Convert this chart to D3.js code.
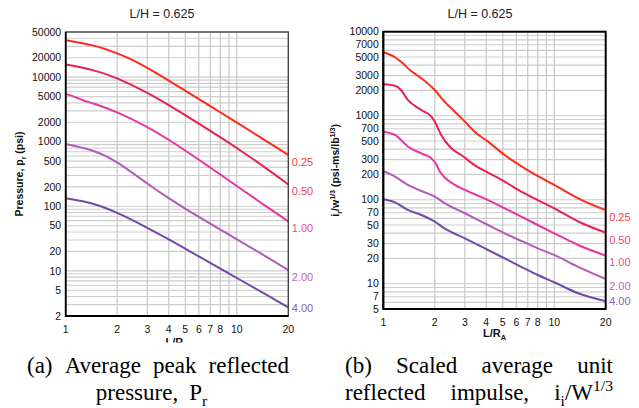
<!DOCTYPE html>
<html>
<head>
<meta charset="utf-8">
<script src="https://cdn.jsdelivr.net/npm/d3@7"></script>
<style>
  body { margin: 0; background: #fff; }
  svg { display: block; }
</style>
</head>
<body>
<div id="chart"></div>
<script>
// ---- data ----
const xTicks = [1, 2, 3, 4, 5, 6, 7, 8, 10, 20];
const curveLabels = ["0.25", "0.50", "1.00", "2.00", "4.00"];
const curveColors = ["#ff2b1c", "#ea2050", "#e636a0", "#b35ab9", "#7249aa"];
const labelColors = ["#f5413a", "#f0426a", "#e8509e", "#c064bd", "#8a62bb"];

const pressureTicks = [2, 5, 10, 20, 50, 100, 200, 500, 1000, 2000, 5000, 10000, 20000, 50000];
const impulseTicks = [5, 7, 10, 20, 30, 50, 70, 100, 200, 300, 500, 700, 1000, 2000, 3000, 5000, 7000, 10000];

// (a) peak reflected pressure, psi
const pressure025 = [[1, 37400], [1.45, 31650], [2, 23700], [2.5, 18130], [3, 14000], [4, 8880], [5, 6180], [6, 4590], [8, 2860], [10, 1980], [14, 1132], [20, 623]];
const pressure050 = [[1, 15700], [1.45, 13060], [2, 9780], [3, 5780], [4, 3700], [5, 2580], [6, 1910], [8, 1178], [10, 800], [14, 437], [20, 217]];
const pressure100 = [[1, 5500], [1.13, 5000], [1.27, 4300], [1.45, 3950], [2, 2900], [3, 1710], [4, 1079], [5, 730], [6, 526], [7, 397], [8, 311], [10, 206], [14, 111], [20, 58.4]];
const pressure200 = [[1, 920], [1.45, 748], [2, 500], [3, 222], [4, 133], [5, 91.6], [6, 68.3], [8, 43.7], [10, 30.9], [14, 18.3], [20, 10.3]];
const pressure400 = [[1, 133], [1.45, 112.6], [2, 80.3], [3, 46.8], [4, 30.8], [5, 22], [6, 16.7], [8, 10.85], [10, 7.76], [14, 4.7], [20, 2.71]];

// (b) scaled reflected impulse, psi-ms/lb^1/3
const impulse025 = [[1, 5690], [1.17, 4960], [1.3, 4200], [1.43, 3500], [1.67, 2790], [2, 2020], [2.28, 1470], [2.62, 1115], [3, 850], [3.42, 646], [4.1, 491], [5.13, 340], [6.2, 262], [7.7, 200], [10, 150], [13.8, 104], [20, 75]];
const impulse050 = [[1, 2370], [1.17, 2275], [1.27, 2020], [1.39, 1540], [1.67, 1170], [1.91, 975], [2, 850], [2.18, 590], [2.5, 410], [2.86, 340], [3.4, 260], [4.1, 210], [5.13, 164], [6.41, 125], [8, 99], [10, 79], [13.8, 55], [20, 40.5]];
const impulse100 = [[1, 646], [1.17, 590], [1.27, 514], [1.39, 430], [1.67, 356], [1.91, 311], [2.04, 265], [2.14, 216], [2.28, 185], [2.62, 150], [3, 131], [4.1, 99], [5.13, 79], [6.41, 63], [8, 50], [10, 39.8], [13.8, 28.9], [20, 21.6]];
const impulse200 = [[1, 220], [1.17, 188], [1.39, 150], [1.67, 127], [2, 109], [2.28, 91], [3, 69], [4.1, 50], [5.13, 39.8], [6.41, 32.3], [8, 26.4], [10, 22], [13.8, 15.9], [20, 11.4]];
const impulse400 = [[1, 101], [1.17, 93], [1.39, 75.5], [1.67, 65.7], [2, 54.8], [2.28, 45.7], [3, 34.7], [4.1, 25.2], [5.13, 20], [6.41, 15.9], [8, 12.7], [10, 10.4], [13.8, 7.7], [20, 6.2]];

const width = 639;
const height = 408;
const sans = "Liberation Sans, Arial, sans-serif";
const serif = "Liberation Serif, Times New Roman, serif";

const svg = d3.select("#chart")
  .append("svg")
  .attr("width", width)
  .attr("height", height);

// text with sub/superscript pieces: [[text], [text, "sub"], ...]
function richText(sel, segs, fs) {
  let shift = 0;
  segs.forEach(([t, k]) => {
    const target = k === "sub" ? fs * 0.28 : k === "sup" ? -fs * 0.4 : 0;
    sel.append("tspan")
      .attr("dy", target - shift)
      .attr("font-size", k ? fs * 0.68 : fs)
      .text(t);
    shift = target;
  });
  return sel;
}

function panel(o) {
  const x = d3.scaleLog().domain([1, 20]).range([o.left, o.right]);
  const y = d3.scaleLog().domain(o.yDomain).range([o.bottom, o.top]);
  const g = svg.append("g");

  // grid
  g.append("g")
    .selectAll("line")
    .data(y.ticks())
    .join("line")
    .attr("x1", o.left).attr("x2", o.right)
    .attr("y1", d => y(d)).attr("y2", d => y(d))
    .attr("stroke", "#cdcdcd")
    .attr("stroke-width", 1.1);

  g.append("g")
    .selectAll("line")
    .data(x.ticks().filter(d => d > 1 && d < 20))
    .join("line")
    .attr("x1", d => x(d)).attr("x2", d => x(d))
    .attr("y1", o.top).attr("y2", o.bottom)
    .attr("stroke", "#c8c8c8")
    .attr("stroke-width", 1.2);

  // curves
  const line = d3.line()
    .x(d => x(d[0]))
    .y(d => y(d[1]))
    .curve(o.curve);

  g.append("g")
    .selectAll("path")
    .data(o.series)
    .join("path")
    .attr("d", line)
    .attr("fill", "none")
    .attr("stroke", (d, i) => curveColors[i])
    .attr("stroke-width", 2);

  // frame
  g.append("rect")
    .attr("x", o.left).attr("y", o.top)
    .attr("width", o.right - o.left).attr("height", o.bottom - o.top)
    .attr("fill", "none")
    .attr("stroke", o.frame)
    .attr("stroke-width", o.frameWidth);
  g.append("path")
    .attr("d", `M${o.left},${o.top}V${o.bottom}H${o.right}`)
    .attr("fill", "none")
    .attr("stroke", "#000")
    .attr("stroke-width", 1.8);

  // tick labels
  g.append("g")
    .selectAll("text")
    .data(o.yTicks)
    .join("text")
    .attr("x", o.left - 4.5)
    .attr("y", d => y(d))
    .attr("dy", "0.35em")
    .attr("text-anchor", "end")
    .attr("font-family", sans)
    .attr("font-size", 10.5)
    .attr("fill", "#111")
    .text(d => d);

  g.append("g")
    .selectAll("text")
    .data(xTicks)
    .join("text")
    .attr("x", d => x(d))
    .attr("y", o.bottom + 17)
    .attr("text-anchor", "middle")
    .attr("font-family", sans)
    .attr("font-size", 10.5)
    .attr("fill", "#111")
    .text(d => d);

  // curve labels at the right end
  g.append("g")
    .selectAll("text")
    .data(o.series)
    .join("text")
    .attr("x", o.right + 3.5)
    .attr("y", d => Math.min(y(d[d.length - 1][1]) + 7, o.bottom - 8))
    .attr("dy", "0.35em")
    .attr("font-family", sans)
    .attr("font-size", 11)
    .attr("fill", (d, i) => labelColors[i])
    .text((d, i) => curveLabels[i]);

  // title and axis titles
  g.append("text")
    .attr("x", o.titleX).attr("y", 18.3)
    .attr("text-anchor", "middle")
    .attr("font-family", sans)
    .attr("font-size", 12.5)
    .attr("fill", "#222")
    .text("L/H = 0.625");

  richText(g.append("text")
    .attr("transform", `translate(${o.yLabelX},${(o.top + o.bottom) / 2}) rotate(-90)`)
    .attr("text-anchor", "middle")
    .attr("font-family", sans)
    .attr("font-weight", "bold")
    .attr("fill", "#111"), o.yLabel, 10.5);

  richText(g.append("text")
    .attr("x", (o.left + o.right) / 2)
    .attr("y", o.xLabelY)
    .attr("text-anchor", "middle")
    .attr("font-family", sans)
    .attr("font-weight", "bold")
    .attr("fill", "#111"), [["L/R"], ["A", "sub"]], 11);
}

panel({
  left: 65.7, right: 288.3, top: 32, bottom: 316,
  yDomain: [2, 50000], yTicks: pressureTicks,
  series: [pressure025, pressure050, pressure100, pressure200, pressure400],
  curve: d3.curveBasis,
  frame: "#444", frameWidth: 1.4,
  titleX: 162, yLabelX: 23, xLabelY: 345.5,
  yLabel: [["Pressure, p"], ["r", "sub"], [" (psi)"]]
});

panel({
  left: 383.3, right: 605.7, top: 31.7, bottom: 309,
  yDomain: [5, 10000], yTicks: impulseTicks,
  series: [impulse025, impulse050, impulse100, impulse200, impulse400],
  curve: d3.curveMonotoneX,
  frame: "#000", frameWidth: 2,
  titleX: 480, yLabelX: 339, xLabelY: 337,
  yLabel: [["i"], ["r", "sub"], ["/w"], ["1/3", "sup"], [" (psi-ms/lb"], ["1/3", "sup"], [")"]]
});

// ---- captions (the white band hides the lower half of the left x label) ----
svg.append("rect")
  .attr("x", 0).attr("y", 342.5)
  .attr("width", 320).attr("height", height - 342.5)
  .attr("fill", "#fff");

const captionFont = 23;

function captionLine(words, x0, x1, y, gap) {
  const g = svg.append("g");
  const nodes = words.map(w => richText(g.append("text")
    .attr("y", y)
    .attr("font-family", serif)
    .attr("fill", "#000"), w, captionFont));
  const widths = nodes.map(t => t.node().getComputedTextLength());
  const total = d3.sum(widths);
  let step, start;
  if (gap === undefined) {
    step = (x1 - x0 - total) / (words.length - 1);
    start = x0;
  } else {
    step = gap;
    start = (x0 + x1) / 2 - (total + gap * (words.length - 1)) / 2;
  }
  let pos = start;
  nodes.forEach((t, i) => {
    t.attr("x", pos);
    pos += widths[i] + step;
  });
}

captionLine([[["(a)"]], [["Average"]], [["peak"]], [["reflected"]]], 27, 289, 373);
captionLine([[["pressure,"]], [["P"], ["r", "sub"]]], 105, 198, 400, 11);
captionLine([[["(b)"]], [["Scaled"]], [["average"]], [["unit"]]], 345, 613, 373);
captionLine([[["reflected"]], [["impulse,"]], [["i"], ["i", "sub"], ["/W"], ["1/3", "sup"]]], 345, 613, 400);
</script>
</body>
</html>
